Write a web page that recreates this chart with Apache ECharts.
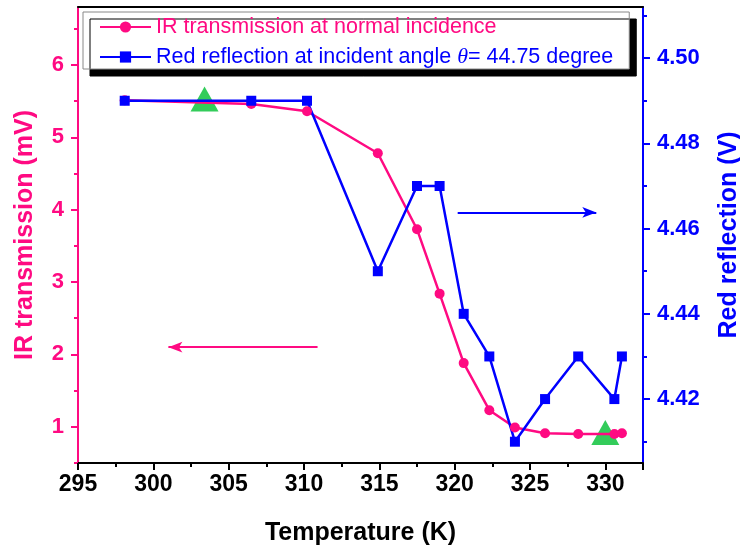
<!DOCTYPE html>
<html>
<head>
<meta charset="utf-8">
<script src="https://cdn.jsdelivr.net/npm/echarts@6/dist/echarts.min.js"></script>
<style>
html,body{margin:0;padding:0;background:#fff}
#main{width:740px;height:550px}
</style>
</head>
<body>
<div id="main"></div>
<script>
// temperature (K) of each measurement
var temps = [298.1, 306.5, 310.2, 314.9, 317.5, 319.0, 320.6, 322.3, 324.0, 326.0, 328.2, 330.6, 331.1];
// IR transmission (mV), left axis
var irVals = [5.51, 5.46, 5.36, 4.78, 3.73, 2.84, 1.88, 1.23, 0.99, 0.91, 0.90, 0.90, 0.91];
// red reflection (V), right axis
var redVals = [4.49, 4.49, 4.49, 4.45, 4.47, 4.47, 4.44, 4.43, 4.41, 4.42, 4.43, 4.42, 4.43];
// green triangles (left axis units)
var triPts = [[303.4, 5.53], [330.0, 0.92]];
// arrows
var irArrow = [[310.9, 2.10], [301.0, 2.10]];
var redArrow = [[320.2, 4.4638], [329.4, 4.4638]];
// tick values
var leftTicks = [1, 2, 3, 4, 5, 6];
var leftMinor = [0.5, 1.5, 2.5, 3.5, 4.5, 5.5, 6.5];
var rightTicks = [4.42, 4.44, 4.46, 4.48, 4.50];
var rightMinor = [4.41, 4.43, 4.45, 4.47, 4.49, 4.51];

var PINK = '#ff0a82', BLUE = '#0000ff', GREEN = '#33cc5a';
var FONT = 'Liberation Sans, Arial, sans-serif';
var irName = 'IR transmission at normal incidence';
var redName = 'Red reflection at incident angle θ= 44.75 degree';

function pair(xs, ys) {
  return xs.map(function (x, i) { return [x, ys[i]]; });
}

var chart = echarts.init(document.getElementById('main'));

var option = {
  animation: false,
  grid: { left: 78, right: 97, top: 7, bottom: 87, outerBoundsMode: 'none', containLabel: false },
  legend: {
    orient: 'vertical',
    left: 83, top: 12,
    padding: [4, 16, 1, 16],
    itemGap: 8,
    itemWidth: 51, itemHeight: 14,
    backgroundColor: '#fff',
    borderColor: '#888', borderWidth: 1,
    shadowColor: '#000', shadowBlur: 0, shadowOffsetX: 7, shadowOffsetY: 7,
    textStyle: {
      fontFamily: FONT, fontSize: 21.5,
      rich: {
        t: { fontFamily: 'Liberation Serif, Times New Roman, serif', fontStyle: 'italic', fontSize: 22, color: BLUE }
      }
    },
    formatter: function (n) { return n.replace('θ', '{t|θ}'); },
    data: [
      { name: irName, textStyle: { color: PINK } },
      { name: redName, textStyle: { color: BLUE } }
    ]
  },
  xAxis: [{
    type: 'value', min: 295, max: 332.5, interval: 5,
    name: 'Temperature (K)', nameLocation: 'middle', nameGap: 58,
    nameTextStyle: { fontFamily: FONT, fontSize: 25, fontWeight: 'bold', color: '#000' },
    axisLine: { show: true, onZero: false, lineStyle: { color: '#000', width: 2 } },
    axisTick: { show: true, length: 7, lineStyle: { color: '#000', width: 2 } },
    minorTick: { show: true, splitNumber: 2, length: 4, lineStyle: { color: '#000', width: 2 } },
    axisLabel: { fontFamily: FONT, fontSize: 23, fontWeight: 'bold', color: '#000', margin: 10, showMaxLabel: false },
    splitLine: { show: false }
  }, {
    type: 'value', position: 'top', min: 295, max: 332.5,
    axisLine: { show: true, onZero: false, lineStyle: { color: '#000', width: 2 } },
    axisTick: { show: false }, axisLabel: { show: false }, splitLine: { show: false }
  }],
  yAxis: [{
    type: 'value', position: 'left', min: 0.5, max: 6.8,
    name: 'IR transmission (mV)', nameLocation: 'middle', nameGap: 40, nameRotate: 90,
    nameTextStyle: { fontFamily: FONT, fontSize: 25, fontWeight: 'bold', color: PINK },
    axisLine: { show: true, onZero: false, lineStyle: { color: PINK, width: 2 } },
    axisTick: { show: true, length: 7, customValues: leftTicks, lineStyle: { color: PINK, width: 2 } },
    axisLabel: { fontFamily: FONT, fontSize: 22, fontWeight: 'bold', color: PINK, margin: 14, customValues: leftTicks },
    splitLine: { show: false }
  }, {
    type: 'value', position: 'right', min: 4.405, max: 4.512,
    name: 'Red reflection (V)', nameLocation: 'middle', nameGap: 74, nameRotate: 90,
    nameTextStyle: { fontFamily: FONT, fontSize: 25, fontWeight: 'bold', color: BLUE },
    axisLine: { show: true, onZero: false, lineStyle: { color: BLUE, width: 2 } },
    axisTick: { show: true, length: 7, customValues: rightTicks, lineStyle: { color: BLUE, width: 2 } },
    axisLabel: {
      fontFamily: FONT, fontSize: 22, fontWeight: 'bold', color: BLUE, margin: 14, customValues: rightTicks,
      formatter: function (v) { return v.toFixed(2); }
    },
    splitLine: { show: false }
  }, {
    type: 'value', position: 'left', min: 0.5, max: 6.8,
    axisLine: { show: false },
    axisTick: { show: true, length: 4, customValues: leftMinor, lineStyle: { color: PINK, width: 2 } },
    axisLabel: { show: false }, splitLine: { show: false }
  }, {
    type: 'value', position: 'right', min: 4.405, max: 4.512,
    axisLine: { show: false },
    axisTick: { show: true, length: 4, customValues: rightMinor, lineStyle: { color: BLUE, width: 2 } },
    axisLabel: { show: false }, splitLine: { show: false }
  }],
  series: [{
    name: irName, type: 'line', yAxisIndex: 0,
    data: pair(temps, irVals),
    symbol: 'circle', symbolSize: 10, showAllSymbol: true,
    lineStyle: { color: PINK, width: 2.5 },
    itemStyle: { color: PINK },
    markLine: {
      silent: true, symbol: ['none', 'arrow'], symbolSize: [8, 14],
      label: { show: false },
      lineStyle: { color: PINK, width: 2, type: 'solid' },
      data: [[{ coord: irArrow[0] }, { coord: irArrow[1] }]]
    }
  }, {
    name: redName, type: 'line', yAxisIndex: 1,
    data: pair(temps, redVals),
    symbol: 'rect', symbolSize: 10, showAllSymbol: true,
    lineStyle: { color: BLUE, width: 2.5 },
    itemStyle: { color: BLUE },
    markLine: {
      silent: true, symbol: ['none', 'arrow'], symbolSize: [8, 14],
      label: { show: false },
      lineStyle: { color: BLUE, width: 2, type: 'solid' },
      data: [[{ coord: redArrow[0] }, { coord: redArrow[1] }]]
    }
  }, {
    name: 'marks', type: 'scatter', yAxisIndex: 0,
    data: triPts,
    symbol: 'triangle', symbolSize: [28, 25],
    itemStyle: { color: GREEN, opacity: 1 }
  }]
};

chart.setOption(option);
</script>
</body>
</html>
